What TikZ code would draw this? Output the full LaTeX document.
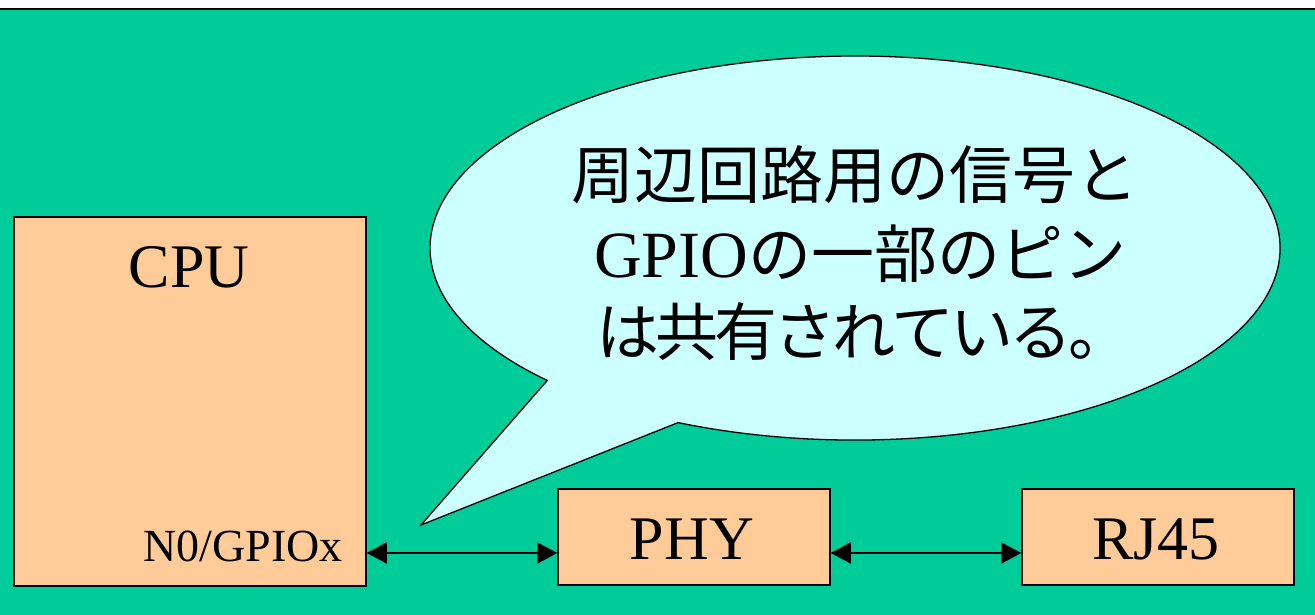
\documentclass[tikz,border=0pt]{standalone}
\usepackage{fontspec}
\setmainfont{Liberation Serif}
\newfontfamily\jpfont{Noto Sans CJK JP}
\usetikzlibrary{arrows.meta}
\definecolor{bg}{HTML}{00CC99}
\definecolor{boxfill}{HTML}{FFCC99}
\definecolor{bubble}{HTML}{CCFFFF}
\newcommand{\tk}{\kern-4pt}
\begin{document}
\begin{tikzpicture}[x=1pt,y=1pt,
  blk/.style={draw=black, line width=1.5pt, fill=boxfill, inner sep=0pt},
  link/.style={line width=2pt, {Triangle[length=20pt,width=21pt]}-{Triangle[length=20pt,width=21pt]}},
  lbl/.style={font=\fontsize{62}{70}\selectfont, inner sep=0pt},
  small/.style={font=\fontsize{46}{52}\selectfont, inner sep=0pt},
  jp/.style={font=\fontsize{63}{70}\selectfont\jpfont, inner sep=0pt}
]
\useasboundingbox (0,0) rectangle (1315,615);
\fill[white] (0,0) rectangle (1315,615);
\fill[bg] (0,0) rectangle (1315,606);
\draw[line width=1.5pt] (0,606) -- (1315,606);
% blocks
\node[blk, minimum width=352pt, minimum height=369pt] (cpu) at (190,213.5) {};
\node[blk, minimum width=272pt, minimum height=96pt] (phy) at (694,78) {};
\node[blk, minimum width=272pt, minimum height=96pt] (rj) at (1158,78) {};
\node[lbl, anchor=base] (cputxt) at (189,327) {CPU};
\node[lbl, anchor=base] (phytxt) at (692,55) {PHY};
\node[lbl, anchor=base] (rjtxt) at (1156,55) {RJ45};
\node[small, anchor=base east] (gpiotxt) at (343,53) {N0/GPIOx};
% connectors
\coordinate (ay) at (0,62);
\draw[link] (cpu.east |- ay) -- (phy.west |- ay);
\draw[link] (phy.east |- ay) -- (rj.west |- ay);
% callout
\coordinate (tip) at (421,90);
\filldraw[fill=bubble, draw=black, line width=1.3pt]
  (tip) -- (678.1,192.4) arc[start angle=245.4, end angle=583.6, x radius=425pt, y radius=192pt] -- cycle;
\node[jp, anchor=base west] (l1) at (571,416) {周辺回路用の信号と};
\node[jp, anchor=base west] (l2) at (594,337) {{\fontfamily{\familydefault}\fontsize{66}{70}\selectfont GPIO}の一部のピン};
\node[jp, anchor=base west] (l3) at (596,259) {は\tk 共\tk 有\tk さ\tk れ\tk て\tk い\tk る\tk 。};
\end{tikzpicture}
\end{document}
